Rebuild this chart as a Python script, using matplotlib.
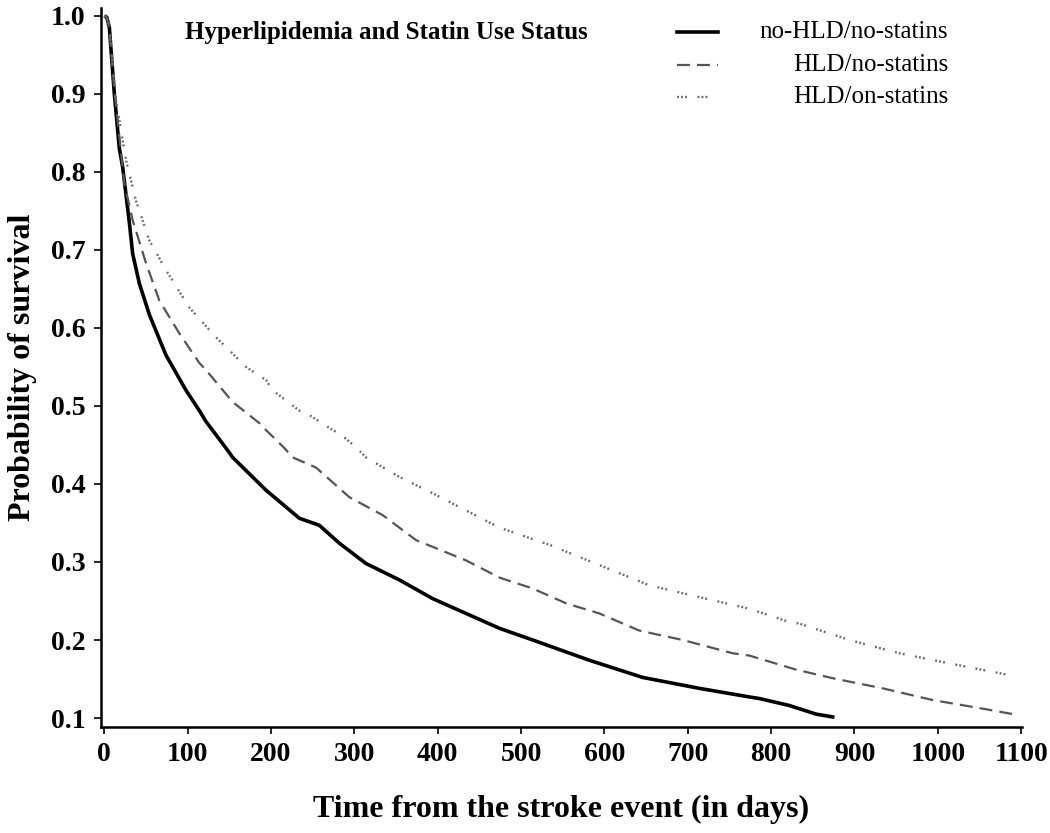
import numpy as np
import matplotlib
matplotlib.use("Agg")
import matplotlib.pyplot as plt
from matplotlib.lines import Line2D

plt.rcParams['font.family'] = ['Liberation Serif', 'DejaVu Serif']

# survival curves (days, probability)
days_none = [0, 3, 6, 12, 18, 22, 30, 34, 42, 54, 74, 98, 114, 122, 148, 154,
             194, 234, 258, 282, 314, 354, 394, 474, 514, 582, 646, 714, 774,
             786, 822, 854, 876]
surv_none = [1.0, 0.998, 0.985, 0.90, 0.83, 0.806, 0.735, 0.695, 0.657, 0.617,
             0.565, 0.520, 0.494, 0.480, 0.443, 0.434, 0.392, 0.356, 0.347,
             0.324, 0.298, 0.277, 0.253, 0.215, 0.200, 0.174, 0.152, 0.138,
             0.127, 0.125, 0.116, 0.105, 0.101]

days_hld = [0, 3, 6, 12, 24, 34, 50, 66, 90, 114, 122, 154, 186, 194, 216, 226,
            254, 294, 334, 374, 434, 474, 514, 554, 594, 642, 694, 754, 774,
            830, 874, 934, 994, 1054, 1090]
surv_hld = [1.0, 0.998, 0.985, 0.905, 0.785, 0.738, 0.683, 0.635, 0.593, 0.555,
            0.546, 0.505, 0.478, 0.469, 0.446, 0.434, 0.421, 0.383, 0.360,
            0.328, 0.302, 0.280, 0.266, 0.247, 0.234, 0.212, 0.200, 0.183,
            0.180, 0.162, 0.151, 0.138, 0.123, 0.112, 0.105]

days_statin = [0, 3, 6, 14, 26, 38, 54, 74, 102, 134, 154, 170, 194, 202, 234,
               242, 274, 282, 302, 314, 354, 394, 434, 474, 534, 594, 654, 714,
               774, 822, 834, 894, 954, 1014, 1086]
surv_statin = [1.0, 0.998, 0.985, 0.892, 0.815, 0.763, 0.712, 0.674, 0.626,
               0.588, 0.567, 0.550, 0.533, 0.520, 0.494, 0.491, 0.469, 0.465,
               0.447, 0.434, 0.409, 0.388, 0.366, 0.344, 0.322, 0.296, 0.270,
               0.255, 0.240, 0.223, 0.221, 0.200, 0.183, 0.170, 0.155]

labels = ['no-HLD/no-statins', 'HLD/no-statins', 'HLD/on-statins']
x_ticks = list(range(0, 1101, 100))
y_ticks = [0.1, 0.2, 0.3, 0.4, 0.5, 0.6, 0.7, 0.8, 0.9, 1.0]

styles = [
    dict(color='black', lw=2.6, linestyle='-'),
    dict(color='#555555', lw=1.6, linestyle=(0, (5.8, 3.2))),
    dict(color='#6a6a6a', lw=1.7, linestyle=(0, (0.8, 0.9, 0.8, 0.9, 0.8, 4.5))),
]

fig = plt.figure(figsize=(10.5, 8.33), dpi=100)
ax = fig.add_axes([101 / 1050, 1 - 727 / 833, 921 / 1050, 719 / 833])

for d, s, st, lab in zip([days_none, days_hld, days_statin],
                         [surv_none, surv_hld, surv_statin], styles, labels):
    ax.plot(d, s, label=lab, solid_capstyle='butt', **st)

ax.set_xlim(-4, 1101)
ax.set_ylim(0.0885, 1.01)
ax.set_xticks(x_ticks)
ax.set_yticks(y_ticks)
ax.set_yticklabels(['%.1f' % v for v in y_ticks])
for side in ['top', 'right']:
    ax.spines[side].set_visible(False)
for side in ['left', 'bottom']:
    ax.spines[side].set_linewidth(1.8)
ax.tick_params(direction='out', length=5, width=1.2, labelsize=20, pad=6)
for lbl in ax.get_xticklabels() + ax.get_yticklabels():
    lbl.set_fontweight('bold')

ax.set_xlabel('Time from the stroke event (in days)', fontsize=23,
              fontweight='bold', labelpad=20)
ax.set_ylabel('Probability of survival', fontsize=23, fontweight='bold',
              labelpad=10)

# legend: bold title on the left, line samples, right-aligned labels
fig.text(185 / 1050, 1 - 32 / 833, 'Hyperlipidemia and Statin Use Status',
         fontsize=18, fontweight='bold', va='center', ha='left')
rows = [32, 65, 97]
for r, st, lab in zip(rows, styles, labels):
    yy = 1 - r / 833
    fig.add_artist(Line2D([677 / 1050, 718 / 1050], [yy, yy],
                          transform=fig.transFigure, **st))
    fig.text(948 / 1050, yy, lab, fontsize=18, ha='right', va='center')

fig.savefig('out.png', dpi=100)
